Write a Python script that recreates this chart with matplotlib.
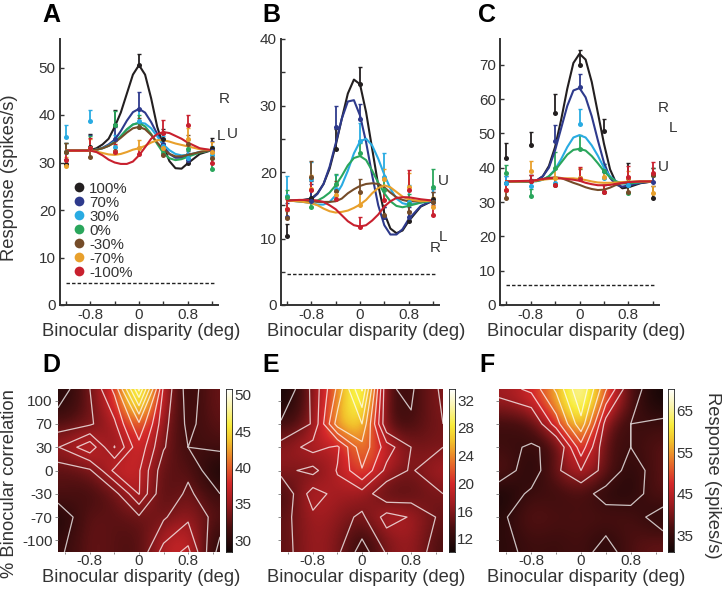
import numpy as np
import matplotlib
matplotlib.use('Agg')
import matplotlib.pyplot as plt
from matplotlib.colors import LinearSegmentedColormap
from matplotlib.lines import Line2D

plt.rcParams['font.family'] = ['Liberation Sans', 'DejaVu Sans']

# rows follow corr_labels, columns follow dot_x
corr_labels = ['100%', '70%', '30%', '0%', '-30%', '-70%', '-100%']
corr_ticks = ['100', '70', '30', '0', '-30', '-70', '-100']
line_colors = ['#231f20', '#2e3a8c', '#29abe2', '#2aa65c', '#754c29', '#e8a02c', '#c8202e']
dot_x = [-1.2, -0.8, -0.4, 0, 0.4, 0.8, 1.2]
curve_x = [-1.2, -1.0, -0.8, -0.7, -0.6, -0.5, -0.4, -0.3, -0.2, -0.1, 0,
           0.1, 0.2, 0.3, 0.4, 0.5, 0.6, 0.7, 0.8, 1.0, 1.2]

a_dots = [[29.6, 33.3, 37.8, 50.5, 35, 30, 33],
          [32.2, 33, 35, 41.3, 34, 30.5, 32.5],
          [35.3, 38.7, 33.2, 38.7, 33.5, 31, 31.5],
          [32.2, 33, 37.8, 37.5, 32, 32.8, 28.7],
          [32.2, 31.1, 32.5, 37.4, 31.5, 33.8, 31],
          [29.2, 33, 32.2, 33, 33, 35, 32.3],
          [30.5, 33, 32.3, 31.7, 36.2, 37.8, 30]]
a_errs = [[1.2, 2.7, 3.2, 2.3, 2, 2, 2.2],
          [2, 2.7, 2.5, 3.6, 2, 2, 2],
          [2.6, 2.4, 2.5, 2.5, 2, 2, 2],
          [2, 2.5, 3, 2.5, 2, 2, 2],
          [2, 2, 2, 2, 2, 2, 2],
          [2, 2, 1.5, 1.8, 2, 2.2, 2],
          [2, 2.2, 1.5, 1.5, 2.7, 2.1, 2]]
a_curves = [[32.5, 32.5, 32.6, 33, 33.8, 35, 37.5, 40.5, 44.5, 48.5, 50.5, 48.5, 43.5, 37.5, 33.5, 30.3, 28.8, 28.7, 29.8, 31.8, 32.6],
            [32.5, 32.5, 32.5, 32.7, 33.1, 33.8, 34.8, 36.6, 38.8, 40.6, 41.3, 40.5, 38.5, 36, 33.5, 31.8, 31, 31, 31.4, 32.2, 32.6],
            [32.5, 32.5, 32.5, 32.7, 33, 33.6, 34.4, 35.6, 36.9, 38, 38.4, 38.2, 37.2, 35.5, 33.8, 32.6, 31.8, 31.5, 31.6, 32.2, 32.6],
            [32.5, 32.5, 32.5, 32.7, 33, 33.5, 34.3, 35.5, 37, 38, 38.3, 37.6, 36, 33.9, 32, 30.9, 30.5, 30.7, 31.2, 32.1, 32.6],
            [32.5, 32.5, 32.5, 32.7, 33, 33.5, 34.2, 35.2, 36.3, 37.2, 37.5, 37, 35.8, 34.2, 32.8, 31.8, 31.3, 31.3, 31.6, 32.2, 32.6],
            [32.5, 32.5, 32.5, 32.3, 32, 31.7, 31.6, 31.8, 32.2, 32.7, 33, 33.5, 34.2, 34.7, 34.7, 34.4, 34, 33.7, 33.4, 32.8, 32.6],
            [32.5, 32.5, 32.5, 32.2, 31.5, 30.6, 30, 29.7, 29.7, 30.2, 31.5, 33.2, 35, 36, 36.4, 36.2, 35.6, 35, 34.2, 33, 32.6]]

b_dots = [[10.4, 16.1, 23.5, 33.3, 13.2, 12.7, 16],
          [13.3, 15.7, 26.7, 28, 13.3, 13.2, 15.5],
          [16.4, 19, 17.5, 24.7, 19.3, 15.5, 15.5],
          [16.3, 14.7, 18.2, 22.8, 17.3, 15.2, 17.8],
          [13.1, 19.2, 17.1, 17, 13.5, 14, 15.5],
          [14.5, 17.5, 16.5, 15, 19, 17.8, 14.8],
          [14.4, 17.3, 16, 11.8, 15.8, 17.3, 13.6]]
b_errs = [[1.8, 2.5, 3, 2.5, 1.5, 1.5, 1.5],
          [2, 2.5, 3.2, 2.3, 1.5, 1.5, 1.5],
          [3, 2.5, 2, 2.7, 3.5, 2.5, 2],
          [1, 1.5, 1.5, 1.5, 1.5, 1.5, 2.7],
          [1, 2.5, 1.5, 2, 1.5, 1.5, 1.5],
          [1.5, 2, 1.5, 2, 1.5, 2, 1.5],
          [1.5, 2, 2, 1.4, 1.5, 3, 1.5]]
b_curves = [[15.7, 15.7, 16, 16.8, 18.2, 20.5, 24, 28, 31.8, 33.9, 33.2, 29, 23.5, 18, 13.8, 11.5, 10.8, 11.2, 12.6, 14.8, 15.7],
            [15.7, 15.7, 15.9, 16.7, 18.2, 20.8, 24.3, 28, 30.6, 30.8, 28.5, 24.5, 19.5, 15, 12, 10.6, 10.6, 11.4, 12.9, 14.9, 15.7],
            [15.7, 15.6, 15.3, 15.1, 15.1, 15.5, 16.5, 18, 20.2, 22.8, 24.6, 25, 24, 22, 19.6, 17.5, 16, 15.3, 15.1, 15.4, 15.7],
            [15.7, 15.6, 15.6, 15.7, 16.2, 16.9, 18, 19.4, 21, 22.1, 22.4, 21.8, 20.2, 18.4, 16.8, 15.6, 14.9, 14.7, 14.9, 15.4, 15.7],
            [15.7, 15.6, 15.6, 15.5, 15.5, 15.5, 15.6, 16, 16.8, 17.4, 17.9, 18.2, 18.3, 18.2, 17.7, 16.9, 16.2, 15.8, 15.6, 15.6, 15.7],
            [15.7, 15.6, 15.3, 15, 14.5, 14.1, 13.9, 14, 14.2, 14.6, 15.1, 15.8, 16.8, 17.6, 18, 17.7, 17, 16.3, 15.9, 15.6, 15.7],
            [15.7, 15.8, 15.8, 15.7, 15.5, 15, 14.4, 13.5, 12.6, 12, 11.8, 12, 12.7, 13.6, 14.8, 15.6, 16.1, 16.2, 16.2, 15.9, 15.7]]

c_dots = [[42.8, 46.7, 55.9, 69.9, 50.6, 37, 31.3],
          [35.5, 36, 47.7, 63.5, 39, 35, 35.7],
          [35.5, 34.8, 35.4, 52.8, 37, 35, 38],
          [38.5, 31.9, 40, 45.5, 39, 32.6, 38],
          [31.3, 36, 35, 37, 33, 33, 38],
          [33.6, 39, 37, 37, 37.3, 37, 32.7],
          [33.6, 36, 35, 36.8, 33, 37.4, 38.5]]
c_errs = [[4.3, 3.8, 5.7, 4.4, 3.5, 4.3, 3.5],
          [2, 2, 4.7, 3.8, 2, 2, 2],
          [2, 2, 2, 4.3, 2, 2, 2],
          [2.3, 2, 4.7, 4, 2, 2, 2],
          [2, 2, 2, 2.5, 2, 2, 2],
          [2, 3, 2.5, 3, 2, 2, 2],
          [2, 2, 2, 3.5, 2, 3, 3.3]]
c_curves = [[36, 36, 36, 36.3, 37.5, 40.5, 46, 54, 63, 70.5, 73.2, 71.5, 65, 56, 47, 39.5, 35.5, 34, 34.3, 35.5, 36],
            [36, 36, 36, 36.3, 37.5, 40, 45, 51.5, 58, 62.5, 63.2, 60.5, 55, 48, 41.5, 37, 35, 34.5, 34.8, 35.6, 36],
            [36, 36, 36, 36.1, 36.5, 37.5, 39.5, 42.5, 46, 48.8, 49.5, 48.8, 46.5, 43.5, 40, 37.5, 36, 35.4, 35.4, 35.8, 36],
            [36, 36, 36, 36.1, 36.5, 37.5, 39.2, 41.5, 43.8, 45.2, 45.5, 45, 43.4, 41.3, 39, 37.2, 36, 35.5, 35.4, 35.8, 36],
            [36, 36, 36, 36.2, 36.7, 37, 37.2, 37, 36.3, 35.6, 35, 34.3, 33.8, 33.5, 33.6, 34.2, 35, 35.5, 35.8, 36, 36],
            [36, 36, 36.1, 36.3, 36.5, 36.7, 36.8, 36.9, 36.9, 36.9, 36.7, 36.4, 36, 35.7, 35.6, 35.6, 35.7, 35.8, 35.9, 36, 36],
            [36, 36.1, 36.2, 36.4, 36.7, 36.9, 37, 36.9, 36.7, 36.5, 36.2, 35.6, 35.2, 34.9, 34.9, 35, 35.3, 35.6, 35.8, 36, 36]]

a_base, b_base, c_base = 4.7, 4.7, 5.7
a_yticks = [0, 10, 20, 30, 40, 50]
b_yticks = [0, 10, 20, 30, 40]
c_yticks = [0, 10, 20, 30, 40, 50, 60, 70]
d_cticks = [30, 35, 40, 45, 50]
e_cticks = [12, 16, 20, 24, 28, 32]
f_cticks = [35, 45, 55, 65]
d_levels = [31, 33.3, 35.4, 37.3, 39.5, 41.7, 43.9, 46.1, 48.3, 50]
e_levels = [13, 15.5, 18, 20.5, 23, 25.5, 28, 30.5, 33]
f_levels = [35, 41, 45.5, 50, 55, 60, 65]

GREY = '#333333'
W, H = 726, 590
heat_cmap = LinearSegmentedColormap.from_list('heat', [
    (0, '#120606'), (0.15, '#4a0f10'), (0.3, '#a01c20'), (0.42, '#d4282a'),
    (0.55, '#e8702a'), (0.68, '#f2c02c'), (0.78, '#f8ec3c'), (0.9, '#fbf5b0'), (1, '#ffffff')])

fig = plt.figure(figsize=(W / 100, H / 100), dpi=100)


def px_axes(x0, y0, x1, y1):
    return fig.add_axes([x0 / W, 1 - y1 / H, (x1 - x0) / W, (y1 - y0) / H])


def px_text(x, y, s, **kw):
    kw.setdefault('color', GREY)
    kw.setdefault('ha', 'center')
    kw.setdefault('va', 'center')
    kw.setdefault('fontsize', 11)
    fig.text(x / W, 1 - y / H, s, **kw)


def tuning_panel(box, dots, errs, curves, base, yticks, ymax):
    ax = px_axes(*box)
    for i, col in enumerate(line_colors):
        ax.errorbar(dot_x, dots[i], yerr=[np.zeros(7), errs[i]], fmt='none', ecolor=col,
                    elinewidth=1.3, capsize=1.5, capthick=1, zorder=2)
    for i, col in enumerate(line_colors):
        ax.plot(curve_x, curves[i], color=col, lw=1.5, zorder=3)
    for i, col in enumerate(line_colors):
        ax.plot(dot_x, dots[i], 'o', color=col, ms=3.6, mew=0, zorder=4)
    ax.plot([-1.2, 1.25], [base, base], color='#222222', lw=1, ls=(0, (2.5, 1.5)))
    ax.set_xlim(-1.3, 1.3)
    ax.set_ylim(0, ymax)
    ax.set_xticks(dot_x)
    ax.set_xticklabels(['', '-0.8', '', '0', '', '0.8', ''])
    ax.set_yticks(yticks)
    ax.tick_params(direction='in', length=3, width=1, color=GREY, labelcolor=GREY,
                   labelsize=11, pad=3)
    ax.tick_params(axis='x', pad=2.5)
    for s in ['top', 'right']:
        ax.spines[s].set_visible(False)
    for s in ['left', 'bottom']:
        ax.spines[s].set_linewidth(1.4)
        ax.spines[s].set_color(GREY)
    ax.patch.set_alpha(0)
    return ax


def heat_panel(box, cbox, dots, levels, cticks, show_y):
    z = np.array(dots)[::-1]
    vmin, vmax = z.min() - 0.3, z.max() + 0.3
    ax = px_axes(*box)
    ax.imshow(z, origin='lower', extent=(-1.4, 1.4, -0.5, 6.5), aspect='auto', cmap=heat_cmap,
              vmin=vmin, vmax=vmax, interpolation='bicubic')
    # outer grid lines pushed to the frame so the contours reach the edge
    cx = np.array(dot_x)
    cx[0], cx[-1] = -1.32, 1.32
    cy = np.array([-0.5, 1, 2, 3, 4, 5, 6.5])
    ax.contour(cx, cy, z, levels=levels, colors='white', linewidths=0.9, alpha=0.75)
    ax.set_xlim(-1.32, 1.32)
    ax.set_ylim(-0.5, 6.5)
    ax.set_xticks(dot_x)
    ax.set_xticklabels(['', '-0.8', '', '0', '', '0.8', ''])
    ax.set_yticks(range(7))
    ax.set_yticklabels(corr_ticks[::-1] if show_y else [])
    ax.tick_params(axis='x', length=1.5, width=0.6, color='#777777', labelcolor=GREY, labelsize=11, pad=0)
    ax.tick_params(axis='y', length=2, width=0.6, color='#777777', labelcolor=GREY, labelsize=11, pad=2)
    for s in ax.spines.values():
        s.set_visible(False)
    cax = px_axes(*cbox)
    grad = np.linspace(vmin, vmax, 256)[:, None]
    cax.imshow(grad, origin='lower', extent=(0, 1, vmin, vmax), aspect='auto', cmap=heat_cmap,
               vmin=vmin, vmax=vmax)
    cax.set_xticks([])
    cax.yaxis.tick_right()
    cax.set_yticks(cticks)
    cax.tick_params(length=0, labelcolor=GREY, labelsize=11, pad=2)
    for s in cax.spines.values():
        s.set_linewidth(0.6)
        s.set_color('#222222')


ax_a = tuning_panel((60, 39, 218, 305), a_dots, a_errs, a_curves, a_base, a_yticks, 56)
ax_b = tuning_panel((281, 39, 439, 305), b_dots, b_errs, b_curves, b_base, b_yticks, 40)
ax_c = tuning_panel((500, 39, 659, 305), c_dots, c_errs, c_curves, c_base, c_yticks, 77.5)
ax_b.set_yticks([5, 15, 25, 35], minor=True)
ax_b.tick_params(which='minor', direction='in', length=3, width=1, color=GREY)

heat_panel((58, 389, 220, 552), (225.5, 389, 231.5, 552), a_dots, d_levels, d_cticks, True)
heat_panel((281, 389, 443, 552), (448.5, 389, 454.5, 552), b_dots, e_levels, e_cticks, False)
heat_panel((499, 389, 663, 552), (667.5, 389, 673.5, 552), c_dots, f_levels, f_cticks, False)

handles = [Line2D([], [], ls='none', marker='o', color=c, ms=7, mew=0) for c in line_colors]
ax_a.legend(handles, corr_labels, loc='lower left', bbox_to_anchor=(0.073, 0.095), frameon=False,
            fontsize=10.8, labelcolor=GREY, labelspacing=0.0, handlelength=1, handletextpad=0.17,
            borderpad=0, borderaxespad=0)

for x, y, s in [(51, 15, 'A'), (271, 15, 'B'), (487, 15, 'C'),
                (51, 365, 'D'), (271, 365, 'E'), (487, 365, 'F')]:
    px_text(x, y, s, fontsize=18, fontweight='bold', color='black')
for x, y in [(141, 331), (366, 331), (586, 331), (141, 577), (366, 577), (586, 577)]:
    px_text(x, y, 'Binocular disparity (deg)', fontsize=13.2)
px_text(10, 178, 'Response (spikes/s)', fontsize=13.2, rotation=90)
px_text(10, 484, '% Binocular correlation', fontsize=13.2, rotation=90)
px_text(713, 475, 'Response (spikes/s)', fontsize=13.2, rotation=-90)

for x, y, s in [(224, 99, 'R'), (221, 136, 'L'), (232, 134, 'U'),
                (443, 181, 'U'), (435, 248, 'R'), (443, 237, 'L'),
                (663, 108, 'R'), (673, 128, 'L'), (663, 167, 'U')]:
    px_text(x, y, s)

fig.savefig('out.png', dpi=100)
